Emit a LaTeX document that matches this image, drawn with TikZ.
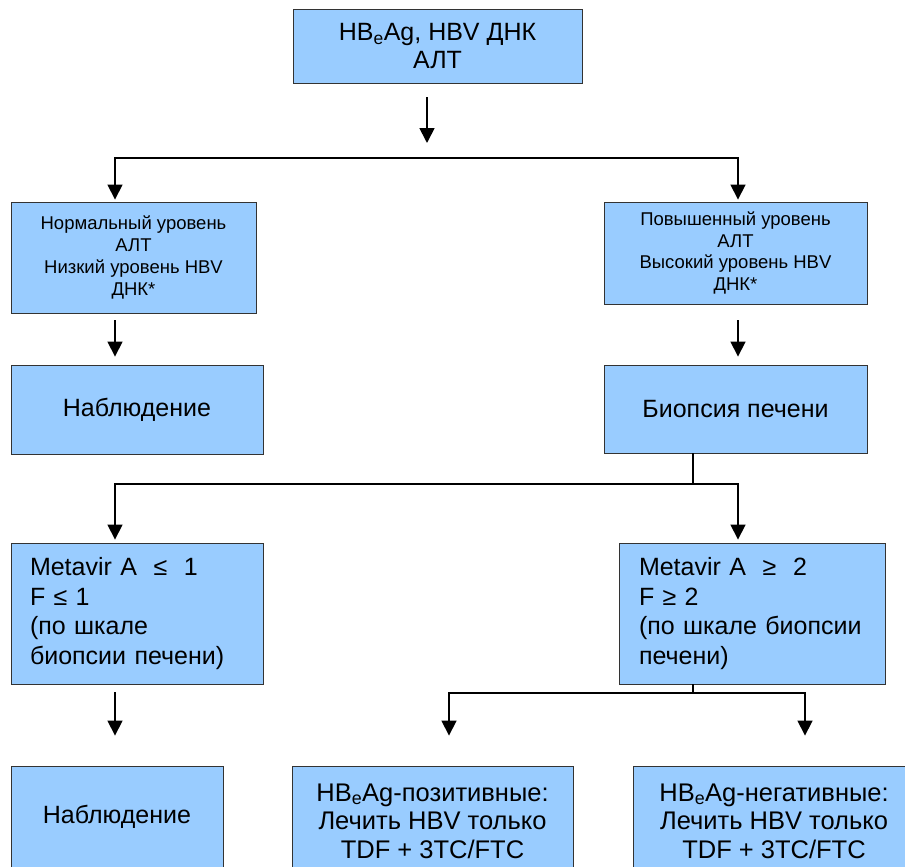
\documentclass[tikz,border=0pt]{standalone}
\usepackage{fontspec}
\setmainfont{Liberation Sans}
\usetikzlibrary{positioning}
\usetikzlibrary{arrows.meta}
\definecolor{boxblue}{RGB}{153,204,255}

\begin{document}
\begin{tikzpicture}[
x=1pt, y=-1pt,
box/.style ={rectangle, draw=black!80, line width=0.9pt, fill=boxblue,
  align=center, inner sep=0pt,
  font=\fontsize{25}{27.6}\selectfont},
small/.style ={font=\fontsize{18.5}{21.7}\selectfont},
big/.style ={font=\fontsize{25}{29}\selectfont},
wide/.style ={font=\fontsize{25.5}{28.5}\selectfont},
leftbox/.style ={align=left, text width=#1,
  font=\fontsize{25}{29.5}\selectfont},
line/.style ={draw, line width=1.7pt},
arrow/.style ={line, -{Triangle[width=15pt,length=15pt]}},
twoarrow/.style ={line, {Triangle[width=15pt,length=15pt]}-{Triangle[width=15pt,length=15pt]}}
]
\useasboundingbox (0,0) rectangle (905,867);
\clip (0,0) rectangle (905,867);

\node[box, minimum width=289pt, minimum height=74pt] (hbv) at (437.5,46) {HB\textsubscript{e}Ag, HBV ДНК\\АЛТ};
\node[box, small, minimum width=245pt, minimum height=111pt] (norm) at (133.5,257.5) {Нормальный уровень\\АЛТ\\Низкий уровень HBV\\ДНК*};
\node[box, small, minimum width=263pt, minimum height=102pt] (high) at (735.5,253) {Повышенный уровень\\АЛТ\\Высокий уровень HBV\\ДНК*};
\node[box, big, minimum width=252pt, minimum height=89pt] (obs) at (137,409.5) {Наблюдение};
\node[box, big, minimum width=263pt, minimum height=88pt] (biop) at (735.5,409) {Биопсия печени};
\node[box, leftbox=214pt, minimum width=252pt, minimum height=141pt] (low) at (137,613.5) {Metavir A\ \ ≤\ \ 1\\F ≤ 1\\(по шкале\\биопсии печени)};
\node[box, leftbox=226pt, minimum width=266pt, minimum height=141pt] (sev) at (752,613.5) {Metavir A\ \ ≥\ \ 2\\F ≥ 2\\(по шкале биопсии\\печени)};
\node[box, big, minimum width=212pt, minimum height=102pt] (obsb) at (117,817) {Наблюдение};
\node[box, wide, minimum width=281pt, minimum height=110pt] (pos) at (432.5,821) {HB\textsubscript{e}Ag-позитивные:\\Лечить HBV только\\TDF + 3TC/FTC};
\node[box, wide, minimum width=282pt, minimum height=110pt] (neg) at (774,821) {HB\textsubscript{e}Ag-негативные:\\Лечить HBV только\\TDF + 3TC/FTC};

% branch points
\coordinate (t1) at (427,97);
\coordinate (t2) at (427,143);
\coordinate (fl) at (115,158);
\coordinate (fr) at (738,158);
\coordinate (m) at (693,484);
\coordinate (n) at (693,693);
\coordinate (pl) at (449,693);
\coordinate (pr) at (805,693);

\draw[arrow] (t1) -- (t2);
\draw[twoarrow, shorten <=2pt, shorten >=2pt] (norm.north -| fl) -- (fl) -- (fr) -- (high.north -| fr);

\draw[arrow, shorten <=7pt, shorten >=8pt] (norm.south -| fl) -- (obs.north -| fl);
\draw[arrow, shorten <=16pt, shorten >=8pt] (high.south -| fr) -- (biop.north -| fr);

\draw[line] (biop.south -| m) -- (m);
\draw[twoarrow, shorten <=3pt, shorten >=3pt] (low.north -| fl) -- (fl |- m) -- (fr |- m) -- (sev.north -| fr);

\draw[arrow, shorten <=8pt, shorten >=30pt] (low.south -| fl) -- (obsb.north -| fl);

\draw[line] (sev.south -| n) -- (n);
\draw[twoarrow, shorten <=30pt, shorten >=30pt] (pos.north -| pl) -- (pl) -- (pr) -- (neg.north -| pr);
\end{tikzpicture}
\end{document}
